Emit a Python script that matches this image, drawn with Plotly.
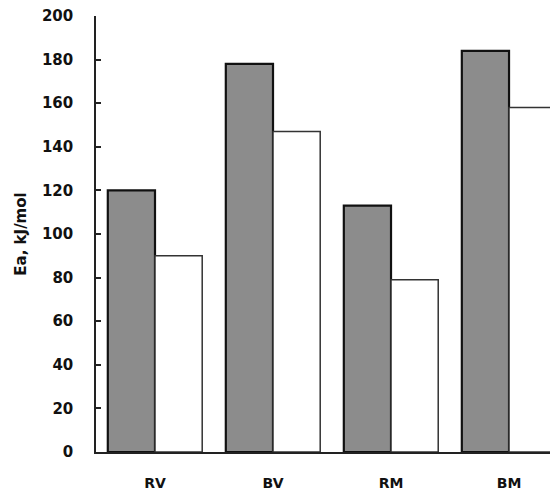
import plotly.graph_objects as go

categories = ["RV", "BV", "RM", "BM"]
series_gray = [120, 178, 113, 184]
series_white = [90, 147, 79, 158]
y_ticks = [0, 20, 40, 60, 80, 100, 120, 140, 160, 180, 200]

fig = go.Figure()
fig.add_trace(go.Bar(x=categories, y=series_gray, name="gray",
                     marker=dict(color="#8c8c8c", line=dict(color="#111111", width=2.2))))
fig.add_trace(go.Bar(x=categories, y=series_white, name="white",
                     marker=dict(color="#ffffff", line=dict(color="#333333", width=1.5))))

fig.update_layout(
    width=550, height=483,
    margin=dict(l=88, r=0, t=8, b=39),
    barmode="group", bargap=0.2, bargroupgap=0,
    showlegend=False,
    plot_bgcolor="white", paper_bgcolor="white",
    font=dict(family="DejaVu Sans, Liberation Sans, sans-serif", color="#111111"),
)
fig.update_xaxes(
    range=[-0.5, 3.415], automargin=False,
    showline=True, linecolor="#222222", linewidth=1.5,
    showgrid=False, ticks="",
    tickfont=dict(size=14, weight="bold"),
    ticklabelstandoff=17,
)
fig.update_yaxes(
    range=[0, 200], tickvals=y_ticks, automargin=False,
    showline=True, linecolor="#222222", linewidth=1.5,
    showgrid=False, zeroline=False,
    ticks="inside", ticklen=5, tickwidth=1.5, tickcolor="#222222",
    tickfont=dict(size=15, weight="bold"),
    ticklabelstandoff=18, ticklabeloverflow="allow",
    title=dict(text="Ea, kJ/mol", font=dict(size=15, weight="bold"), standoff=12),
)

fig.write_html("out.html")
